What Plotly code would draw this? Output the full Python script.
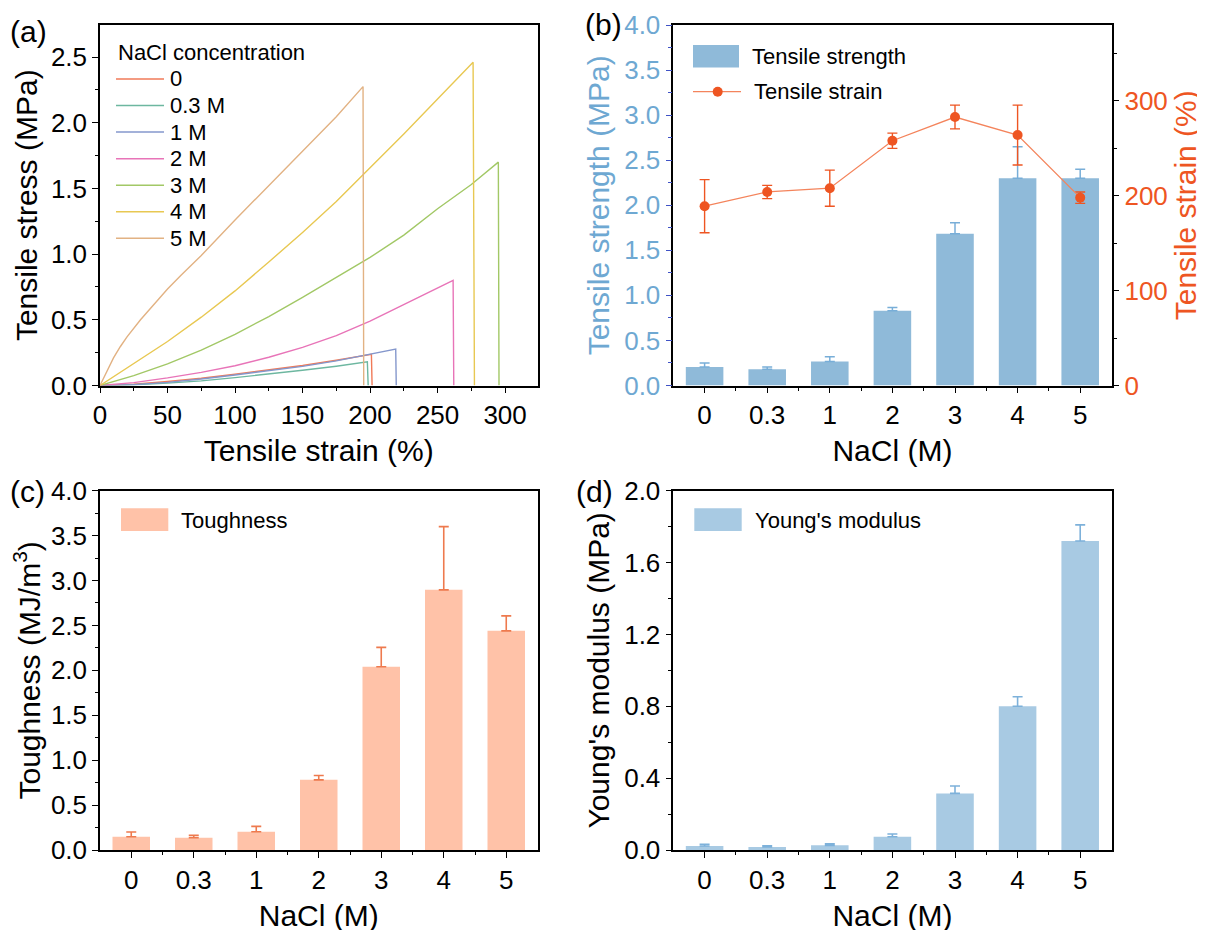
import plotly.graph_objects as go

FONT = "Liberation Sans, Arial, sans-serif"

# ---------------- Panel (a): stress-strain curves ----------------
curve_names = ["0", "0.3 M", "1 M", "2 M", "3 M", "4 M", "5 M"]
curve_colors = ["#F07A58", "#6DB7A0", "#8497CC", "#E874B8", "#A2C866", "#E8C852", "#E2B283"]

strain_0 = [0, 25, 50, 75, 100, 125, 150, 175, 201, 201.5]
stress_0 = [0, 0.010, 0.030, 0.055, 0.086, 0.117, 0.152, 0.192, 0.237, 0]

strain_03 = [0, 25, 50, 75, 100, 125, 150, 175, 198, 198.6]
stress_03 = [0, 0.006, 0.018, 0.035, 0.060, 0.086, 0.116, 0.147, 0.180, 0]

strain_1 = [0, 25, 50, 75, 100, 125, 150, 175, 200, 219, 219.4]
stress_1 = [0, 0.007, 0.024, 0.049, 0.080, 0.111, 0.146, 0.187, 0.236, 0.278, 0]

strain_2 = [0, 25, 50, 75, 100, 125, 150, 175, 200, 225, 250, 261.5, 262]
stress_2 = [0, 0.022, 0.058, 0.100, 0.150, 0.215, 0.290, 0.380, 0.490, 0.615, 0.740, 0.800, 0]

strain_3 = [0, 25, 50, 75, 100, 125, 150, 175, 200, 225, 250, 275, 295, 295.5]
stress_3 = [0, 0.075, 0.165, 0.270, 0.390, 0.525, 0.670, 0.820, 0.975, 1.145, 1.345, 1.530, 1.700, 0]

strain_4 = [0, 25, 50, 75, 100, 125, 150, 175, 200, 225, 250, 276.3, 277.3]
stress_4 = [0, 0.165, 0.335, 0.520, 0.720, 0.940, 1.165, 1.400, 1.655, 1.915, 2.180, 2.460, 0]

strain_5 = [0, 5, 10, 15, 20, 30, 40, 50, 60, 75, 100, 125, 150, 175, 194.8, 195.3]
stress_5 = [0, 0.110, 0.210, 0.295, 0.370, 0.500, 0.620, 0.735, 0.840, 0.990, 1.260,
            1.520, 1.785, 2.045, 2.275, 0]

curves_x = [strain_0, strain_03, strain_1, strain_2, strain_3, strain_4, strain_5]
curves_y = [stress_0, stress_03, stress_1, stress_2, stress_3, stress_4, stress_5]

# ---------------- Panels (b)-(d): bar data ----------------
categories = ["0", "0.3", "1", "2", "3", "4", "5"]

tensile_strength = [0.205, 0.180, 0.265, 0.830, 1.685, 2.300, 2.300]
tensile_strength_err = [0.045, 0.025, 0.055, 0.035, 0.120, 0.350, 0.100]

tensile_strain = [189, 204, 208, 258, 283, 264, 198]
tensile_strain_err = [28, 7, 19, 8, 12.5, 31.5, 6]

toughness = [0.148, 0.137, 0.204, 0.781, 2.040, 2.896, 2.440]
toughness_err = [0.052, 0.026, 0.059, 0.049, 0.216, 0.704, 0.167]

youngs_modulus = [0.022, 0.017, 0.026, 0.074, 0.315, 0.800, 1.720]
youngs_modulus_err = [0.010, 0.007, 0.009, 0.015, 0.041, 0.053, 0.090]

# ---------------- colours ----------------
C_STRENGTH = "#8FBAD9"
C_STRENGTH_AX = "#6EA8D2"
C_STRENGTH_TICK = "#3F52C6"
C_STRAIN = "#EE5522"
C_STRAIN_LINE = "#F4845C"
C_TOUGH = "#FFC2A8"
C_TOUGH_ERR = "#EE7A4E"
C_MOD = "#A8CAE3"
C_MOD_ERR = "#7DB1DA"

pos = list(range(len(categories)))
minor_pos = [p + 0.5 for p in pos[:-1]]

fig = go.Figure()

# (a) curves
for name, xs, ys, col in zip(curve_names, curves_x, curves_y, curve_colors):
    fig.add_trace(go.Scatter(x=xs, y=ys, mode="lines", name=name,
                             line=dict(color=col, width=1.4),
                             xaxis="x", yaxis="y", showlegend=False))

# (b) bars + strain
fig.add_trace(go.Bar(x=pos, y=tensile_strength, width=0.6, name="Tensile strength",
                     marker=dict(color=C_STRENGTH, line=dict(width=0)),
                     error_y=dict(type="data", symmetric=False, array=tensile_strength_err,
                                  arrayminus=[0] * len(pos), color="#78AED8",
                                  thickness=1.5, width=5),
                     xaxis="x2", yaxis="y2", showlegend=False))
fig.add_trace(go.Scatter(x=pos, y=tensile_strain, mode="lines+markers", name="Tensile strain",
                         line=dict(color=C_STRAIN_LINE, width=1.3),
                         marker=dict(color=C_STRAIN, size=10),
                         error_y=dict(type="data", array=tensile_strain_err, color=C_STRAIN,
                                      thickness=1.4, width=5),
                         xaxis="x2", yaxis="y3", showlegend=False))

# (c) toughness
fig.add_trace(go.Bar(x=pos, y=toughness, width=0.6, name="Toughness",
                     marker=dict(color=C_TOUGH, line=dict(width=0)),
                     error_y=dict(type="data", symmetric=False, array=toughness_err,
                                  arrayminus=[0] * len(pos), color=C_TOUGH_ERR,
                                  thickness=1.6, width=5),
                     xaxis="x3", yaxis="y4", showlegend=False))

# (d) modulus
fig.add_trace(go.Bar(x=pos, y=youngs_modulus, width=0.6, name="Young's modulus",
                     marker=dict(color=C_MOD, line=dict(width=0)),
                     error_y=dict(type="data", symmetric=False, array=youngs_modulus_err,
                                  arrayminus=[0] * len(pos), color=C_MOD_ERR,
                                  thickness=1.6, width=5),
                     xaxis="x4", yaxis="y5", showlegend=False))

W, H = 1205, 930
OX, OY = 8, 8   # page body margin offset of the plot div

def px(x):
    return (x - OX) / W
def py(y):
    return 1 - (y - OY) / H

XL = [px(100), px(537.5)]
XR = [px(673.3), px(1111.5)]
YT = [py(385.5), py(25)]
YB = [py(850), py(490.7)]

TICKF = dict(family=FONT, size=26, color="black")
TITLEF = dict(family=FONT, size=30, color="black")

def mn(dtick=None, color="black"):
    d = dict(ticks="outside", ticklen=3.5, tickwidth=1.2, tickcolor=color)
    if dtick is not None:
        d["dtick"] = dtick
    return d

def ax(**kw):
    d = dict(showline=True, linecolor="black", linewidth=1.5, mirror=True,
             ticks="outside", ticklen=6, tickwidth=1.4, tickcolor="black",
             showgrid=False, zeroline=False, tickfont=TICKF, automargin=False,
             minor=mn())
    d.update(kw)
    return d

def cat_minor():
    d = mn()
    d.update(tickmode="array", tickvals=minor_pos)
    return d

layout = dict(
    width=W, height=H, margin=dict(l=0, r=0, t=0, b=0, autoexpand=False),
    paper_bgcolor="white", plot_bgcolor="white",
    font=dict(family=FONT, color="black"),
    xaxis=ax(domain=XL, anchor="y", range=[0, 324], tick0=0, dtick=50, minor=mn(25),
             title=dict(text="Tensile strain (%)", font=TITLEF, standoff=11)),
    yaxis=ax(domain=YT, anchor="x", range=[0, 2.744], tick0=0, dtick=0.5, tickformat=".1f",
             minor=mn(0.25),
             title=dict(text="Tensile stress (MPa)", font=TITLEF, standoff=4)),
    xaxis2=ax(domain=XR, anchor="y2", range=[-0.5, 6.5], tickmode="array",
              tickvals=pos, ticktext=categories, minor=cat_minor(),
              title=dict(text="NaCl (M)", font=TITLEF, standoff=11)),
    yaxis2=ax(domain=YT, anchor="x2", range=[0, 4], tick0=0, dtick=0.5, tickformat=".1f",
              mirror=False, tickcolor=C_STRENGTH_TICK,
              tickfont=dict(family=FONT, size=26, color=C_STRENGTH_AX),
              minor=mn(0.25, C_STRENGTH_TICK),
              title=dict(text="Tensile strength (MPa)",
                         font=dict(family=FONT, size=30, color=C_STRENGTH_AX), standoff=6)),
    yaxis3=ax(anchor="x2", overlaying="y2", side="right", range=[0, 380], tick0=0, dtick=100,
              mirror=False,
              tickfont=dict(family=FONT, size=26, color=C_STRAIN),
              minor=mn(50),
              title=dict(text="Tensile strain (%)",
                         font=dict(family=FONT, size=30, color=C_STRAIN), standoff=8)),
    xaxis3=ax(domain=XL, anchor="y4", range=[-0.5, 6.5], tickmode="array",
              tickvals=pos, ticktext=categories, minor=cat_minor(),
              title=dict(text="NaCl (M)", font=TITLEF, standoff=11)),
    yaxis4=ax(domain=YB, anchor="x3", range=[0, 4], tick0=0, dtick=0.5, tickformat=".1f",
              minor=mn(0.25),
              title=dict(text="Toughness (MJ/m<sup>3</sup>)", font=TITLEF, standoff=4)),
    xaxis4=ax(domain=XR, anchor="y5", range=[-0.5, 6.5], tickmode="array",
              tickvals=pos, ticktext=categories, minor=cat_minor(),
              title=dict(text="NaCl (M)", font=TITLEF, standoff=11)),
    yaxis5=ax(domain=YB, anchor="x4", range=[0, 2.0], tick0=0, dtick=0.4, tickformat=".1f",
              minor=mn(0.2),
              title=dict(text="Young's modulus (MPa)", font=TITLEF, standoff=6)),
)
fig.update_layout(**layout)

shapes = []
annots = []
LEGF = dict(family=FONT, size=22, color="black")

# panel labels
for lab, x, y in [("(a)", 28, 32), ("(b)", 603, 24), ("(c)", 27, 491), ("(d)", 594, 492)]:
    annots.append(dict(text=lab, x=px(x), y=py(y), xref="paper", yref="paper",
                       xanchor="center", yanchor="middle", showarrow=False,
                       font=dict(family=FONT, size=30, color="black")))

# legend (a)
annots.append(dict(text="NaCl concentration", x=px(116), y=py(52.5), xref="paper", yref="paper",
                   xanchor="left", yanchor="middle", showarrow=False, font=LEGF))
for i, (name, col) in enumerate(zip(curve_names, curve_colors)):
    yy = 79 + i * 26.55
    shapes.append(dict(type="line", xref="paper", yref="paper", x0=px(116), x1=px(164),
                       y0=py(yy), y1=py(yy), line=dict(color=col, width=1.5)))
    annots.append(dict(text=name, x=px(168), y=py(yy), xref="paper", yref="paper",
                       xanchor="left", yanchor="middle", showarrow=False, font=LEGF))

# legend (b)
shapes.append(dict(type="rect", xref="paper", yref="paper", x0=px(693), x1=px(739),
                   y0=py(67.5), y1=py(45), line=dict(width=0), fillcolor=C_STRENGTH))
annots.append(dict(text="Tensile strength", x=px(750), y=py(56), xref="paper", yref="paper",
                   xanchor="left", yanchor="middle", showarrow=False, font=LEGF))
shapes.append(dict(type="line", xref="paper", yref="paper", x0=px(693), x1=px(741),
                   y0=py(91.7), y1=py(91.7), line=dict(color=C_STRAIN_LINE, width=1.3)))
shapes.append(dict(type="circle", xref="paper", yref="paper", x0=px(712.7), x1=px(722.7),
                   y0=py(96.7), y1=py(86.7), line=dict(width=0), fillcolor=C_STRAIN))
annots.append(dict(text="Tensile strain", x=px(752), y=py(91.7), xref="paper", yref="paper",
                   xanchor="left", yanchor="middle", showarrow=False, font=LEGF))

# legend (c)
shapes.append(dict(type="rect", xref="paper", yref="paper", x0=px(121), x1=px(168.3),
                   y0=py(531), y1=py(508.3), line=dict(width=0), fillcolor=C_TOUGH))
annots.append(dict(text="Toughness", x=px(179), y=py(520.5), xref="paper", yref="paper",
                   xanchor="left", yanchor="middle", showarrow=False, font=LEGF))

# legend (d)
shapes.append(dict(type="rect", xref="paper", yref="paper", x0=px(694.3), x1=px(741.7),
                   y0=py(531), y1=py(508.3), line=dict(width=0), fillcolor=C_MOD))
annots.append(dict(text="Young's modulus", x=px(753), y=py(520.5), xref="paper", yref="paper",
                   xanchor="left", yanchor="middle", showarrow=False, font=LEGF))

fig.update_layout(shapes=shapes, annotations=annots)
fig.write_html("out.html")
